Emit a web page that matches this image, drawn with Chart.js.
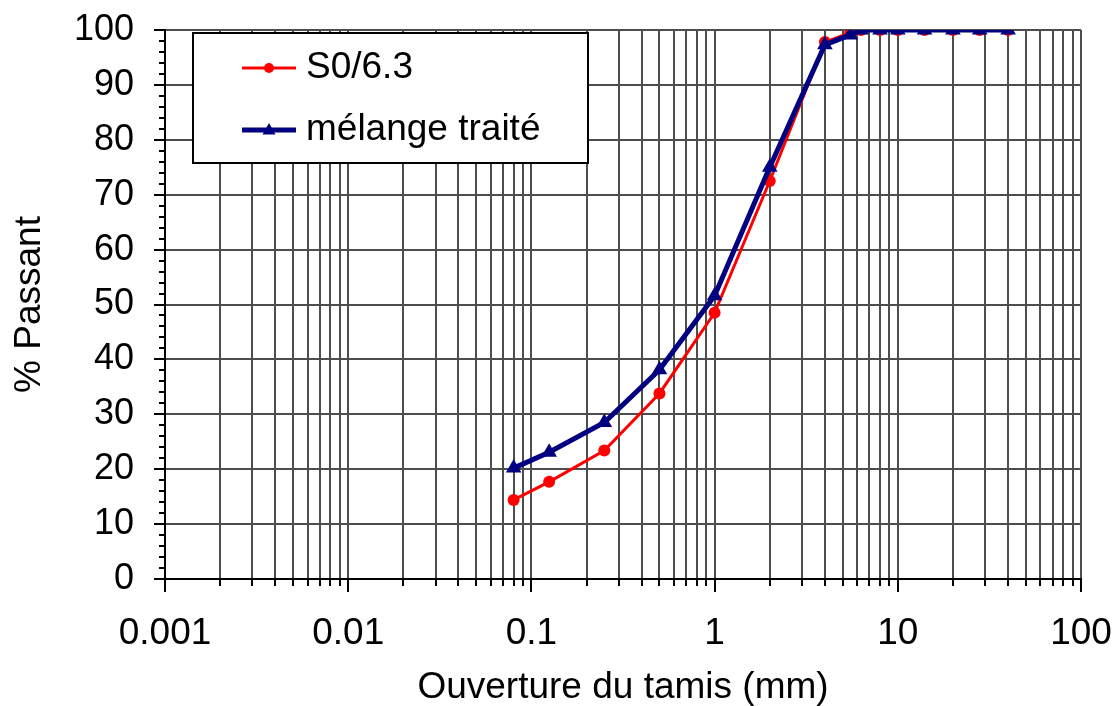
<!DOCTYPE html>
<html>
<head>
<meta charset="utf-8">
<script src="https://cdn.jsdelivr.net/npm/chart.js@4"></script>
<style>
  html, body { margin: 0; padding: 0; background: #fff; }
  #wrap { width: 1117px; height: 706px; }
</style>
</head>
<body>
<div id="wrap"><canvas id="myChart" width="1117" height="706"></canvas></div>
<script>
// Ouverture des tamis (mm)
const tamis = [0.08, 0.125, 0.25, 0.5, 1, 2, 4, 5.5, 6.3, 8, 10, 14, 20, 28, 40];
// % passant
const passantS0 = [14.4, 17.7, 23.4, 33.8, 48.5, 72.5, 97.8, 99.5, 100, 100, 100, 100, 100, 100, 100];
const passantMelange = [20.2, 23.1, 28.5, 38.1, 51.6, 75, 97.3, 99.1, 100, 100, 100, 100, 100, 100, 100];

const labelsX = ['0.001', '0.01', '0.1', '1', '10', '100'];
const labelsY = ['0', '10', '20', '30', '40', '50', '60', '70', '80', '90', '100'];

const FONT = "'Liberation Sans', Arial, sans-serif";
const GRID = '#4d4d4d';

// graduations log : 1..9 x 10^n
const ticksX = [];
for (let e = -3; e <= 1; e++) {
  for (let m = 1; m <= 9; m++) ticksX.push(parseFloat((m * Math.pow(10, e)).toPrecision(3)));
}
ticksX.push(100);

const pts = (xs, ys) => xs.map((x, i) => ({ x: x, y: ys[i] }));

// pas de marge auto pour les libelles : zone du graphe fixee par layout.padding
function noLabelPadding(s) {
  s.paddingTop = 0;
  s.paddingBottom = 0;
  s.paddingLeft = 0;
  s.paddingRight = 0;
}

// petites graduations sous / a gauche des axes
const tickMarks = {
  id: 'tickMarks',
  afterDraw(chart) {
    const ctx = chart.ctx;
    const xs = chart.scales.x, ys = chart.scales.y;
    ctx.save();
    ctx.strokeStyle = '#000';
    ctx.lineWidth = 2;
    ctx.beginPath();
    ticksX.forEach(v => {
      const px = Math.round(xs.getPixelForValue(v));
      const major = labelsX.includes(String(v));
      ctx.moveTo(px, ys.bottom);
      ctx.lineTo(px, ys.bottom + (major ? 13 : 7));
    });
    for (let v = 0; v <= 100; v += 2) {
      const py = Math.round(ys.getPixelForValue(v));
      ctx.moveTo(xs.left, py);
      ctx.lineTo(xs.left - (v % 10 === 0 ? 11 : 6), py);
    }
    ctx.stroke();
    ctx.restore();
  }
};

// legende encadree dans la zone du graphique
const boxLegend = {
  id: 'boxLegend',
  afterDraw(chart) {
    const ctx = chart.ctx;
    ctx.save();
    ctx.fillStyle = '#fff';
    ctx.fillRect(193, 33, 395, 130);
    ctx.strokeStyle = '#000';
    ctx.lineWidth = 2;
    ctx.strokeRect(193, 33, 395, 130);
    const items = [
      { text: 'S0/6.3', color: '#ff0000', width: 3, style: 'circle', y: 68 },
      { text: 'mélange traité', color: '#000080', width: 5, style: 'triangle', y: 130 }
    ];
    items.forEach(it => {
      ctx.strokeStyle = it.color;
      ctx.fillStyle = it.color;
      ctx.lineWidth = it.width;
      ctx.beginPath();
      ctx.moveTo(242, it.y);
      ctx.lineTo(296, it.y);
      ctx.stroke();
      ctx.beginPath();
      if (it.style === 'circle') {
        ctx.arc(269, it.y, 5, 0, Math.PI * 2);
      } else {
        ctx.moveTo(269, it.y - 7);
        ctx.lineTo(275.5, it.y + 4.5);
        ctx.lineTo(262.5, it.y + 4.5);
        ctx.closePath();
      }
      ctx.fill();
      ctx.fillStyle = '#000';
      ctx.font = '37px ' + FONT;
      ctx.textBaseline = 'middle';
      ctx.textAlign = 'left';
      ctx.fillText(it.text, 306, it.y);
    });
    ctx.restore();
  }
};

new Chart(document.getElementById('myChart'), {
  type: 'line',
  data: {
    datasets: [{
      label: 'S0/6.3',
      data: pts(tamis, passantS0),
      borderColor: '#ff0000',
      backgroundColor: '#ff0000',
      borderWidth: 3,
      pointStyle: 'circle',
      pointRadius: 6,
      pointBorderWidth: 0,
      order: 1
    }, {
      label: 'mélange traité',
      data: pts(tamis, passantMelange),
      borderColor: '#000080',
      backgroundColor: '#000080',
      borderWidth: 5,
      pointStyle: 'triangle',
      pointRadius: 9,
      pointBorderWidth: 0,
      order: 0
    }]
  },
  options: {
    responsive: false,
    animation: false,
    events: [],
    layout: { autoPadding: false, padding: { top: 30, right: 36, left: 0, bottom: 0 } },
    plugins: { legend: { display: false }, tooltip: { enabled: false } },
    scales: {
      x: {
        type: 'logarithmic',
        min: 0.001,
        max: 100,
        afterBuildTicks: s => { s.ticks = ticksX.map(v => ({ value: v })); },
        afterFit: s => { s.height = 127; noLabelPadding(s); },
        grid: { color: GRID, lineWidth: 2, drawTicks: false },
        border: { color: '#000', width: 2 },
        ticks: {
          autoSkip: false,
          maxRotation: 0,
          padding: 33,
          color: '#000',
          font: { family: FONT, size: 37 },
          callback: v => (labelsX.includes(String(v)) ? String(v) : '')
        },
        title: {
          display: true,
          text: 'Ouverture du tamis (mm)',
          color: '#000',
          font: { family: FONT, size: 37, lineHeight: 1 },
          padding: { top: 0, bottom: 0 }
        }
      },
      y: {
        min: 0,
        max: 100,
        afterBuildTicks: s => { s.ticks = labelsY.map(v => ({ value: Number(v) })); },
        afterFit: s => { s.width = 165; noLabelPadding(s); },
        grid: { color: GRID, lineWidth: 2, drawTicks: false },
        border: { color: '#000', width: 2 },
        ticks: {
          padding: 31,
          color: '#000',
          font: { family: FONT, size: 36 }
        },
        title: {
          display: true,
          text: '% Passant',
          color: '#000',
          font: { family: FONT, size: 37, lineHeight: 1 },
          padding: { top: 11, bottom: 0 }
        }
      }
    }
  },
  plugins: [tickMarks, boxLegend]
});
</script>
</body>
</html>
